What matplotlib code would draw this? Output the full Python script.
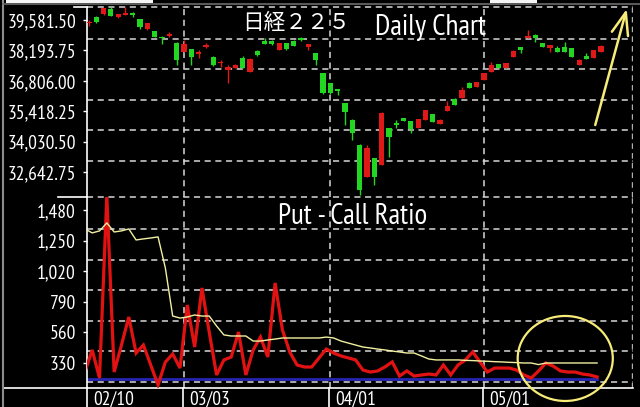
import numpy as np
import matplotlib
matplotlib.use("Agg")
import matplotlib.pyplot as plt
from matplotlib import font_manager as fm
from matplotlib.patches import Ellipse, Rectangle
from matplotlib.lines import Line2D

#############################################################
# Data
#############################################################

# daily candles, Nikkei 225
opens = [39430, 39730, 39840, 40080, 39700, 39810, 39880, 39610, 39160, 39080,
         38820, 38860, 38550, 38130, 38260, 38030, 38350, 37910, 37620, 37300,
         37390, 37850, 37220, 38170, 38620, 38620, 38210, 38520, 38620, 38760,
         38350, 38060, 37150, 36690, 36430, 35780, 35020, 33880, 32420, 33280,
         32960, 34650, 34860, 35110, 34970, 34650, 35020, 35290, 34830, 35430,
         35980, 36020, 36710, 36520, 36840, 37210, 37570, 37390, 37890, 38350,
         38760, 38900, 38530, 38300, 38300, 38350, 38300, 37530, 37940, 37850,
         38120]
highs = [39580, 39760, 40150, 40175, 39860, 40175, 39950, 39630, 39450, 39100,
         38830, 39030, 38570, 38670, 38280, 38210, 38530, 37940, 37760, 37530,
         37550, 37950, 37830, 38200, 38760, 38680, 38540, 38540, 38650, 38800,
         38500, 38080, 37170, 36710, 36450, 35800, 35040, 33900, 33880, 33300,
         35360, 34670, 35020, 35130, 34990, 35080, 35490, 35310, 35040, 35880,
         36000, 36520, 36730, 36770, 37180, 37660, 37590, 37640, 38190, 38370,
         39120, 38920, 38550, 38460, 38400, 38580, 38320, 37780, 38080, 38230,
         38420]
lows = [39310, 39440, 39820, 39760, 39690, 39800, 39720, 39160, 39140, 38800,
        38490, 38800, 37530, 38100, 37530, 37860, 38300, 37500, 37450, 36690,
        37380, 37370, 37200, 37960, 38470, 38450, 38190, 38220, 38390, 38620,
        38210, 37530, 36220, 36200, 36160, 34790, 34100, 31590, 32400, 32050,
        32940, 33330, 34650, 34950, 34420, 34630, 35000, 34910, 34820, 35410,
        35680, 36000, 36460, 36500, 36820, 37190, 37370, 37370, 37870, 38080,
        38740, 38580, 38330, 38120, 38100, 38100, 37870, 37510, 37780, 37830,
        38100]
closes = [39460, 39500, 40120, 39780, 39840, 39900, 39810, 39280, 39430, 38820,
          38750, 38900, 37760, 38470, 37910, 38120, 38440, 37530, 37660, 37450,
          37530, 37390, 37800, 37980, 38490, 38470, 38520, 38240, 38410, 38680,
          38490, 37760, 36240, 36240, 36340, 35400, 34410, 31820, 33740, 32420,
          35340, 34240, 34810, 34970, 34610, 35060, 35470, 34930, 35020, 35660,
          35700, 36390, 36480, 36750, 37160, 37530, 37390, 37620, 38170, 38210,
          38850, 38760, 38350, 38440, 38120, 38120, 37890, 37760, 37800, 38210,
          38400]

# put - call ratio and its average
pcr = [262, 428, 217, 1590, 262, 465, 676, 405, 465, 315,
       165, 337, 398, 292, 766, 450, 894, 560, 240, 353,
       375, 563, 240, 428, 525, 375, 932, 578, 413, 315,
       300, 300, 368, 435, 405, 383, 368, 353, 277, 262,
       270, 300, 338, 232, 270, 232, 240, 247, 240, 315,
       240, 315, 353, 413, 338, 262, 292, 292, 292, 277,
       240, 217, 270, 330, 307, 270, 262, 262, 247, 240, 225]
pcr_avg = [1338, 1308, 1323, 1383, 1315, 1323, 1338, 1255, 1263, 1270,
           1278, 1044, 683, 668, 676, 691, 683, 683, 608, 541,
           533, 533, 533, 495, 495, 503, 510, 518, 518, 518,
           518, 518, 518, 525, 518, 495, 480, 465, 450, 443,
           435, 428, 420, 413, 405, 405, 383, 360, 353, 353,
           353, 353, 350, 348, 345, 343, 340, 338, 335, 333,
           330, 330, 318, 330, 330, 330, 330, 330, 330, 330, 330]
pcr_base = 210

price_ticks = [39581.50, 38193.75, 36806.00, 35418.25, 34030.50, 32642.75]
pcr_ticks = [1480, 1250, 1020, 790, 560, 330]
date_pos = [0, 13, 33, 54]
date_labels = ['02/10', '03/03', '04/01', '05/01']

#############################################################
# Style
#############################################################

RED = '#e01818'
GREEN = '#22d622'
LINE_RED = '#e31212'
YELLOW = '#f2f0a0'
MARK = '#f7ec78'
BLUE = '#2626b4'
GRID = '#d8d8d8'
dash = (0, (4, 3))

# a narrow face looks closest to the original screen font
installed = {f.name for f in fm.fontManager.ttflist}
narrow_pick = [n for n in ['Liberation Sans Narrow', 'Arial Narrow', 'PT Sans Narrow',
                           'Roboto Condensed', 'Archivo Narrow', 'Fira Sans Condensed',
                           'IBM Plex Sans Condensed', 'Open Sans Condensed',
                           'Liberation Sans'] if n in installed]
narrow = narrow_pick[:1] + ['DejaVu Sans']
jp = ['Noto Sans CJK JP', 'DejaVu Sans']

W, H = 640.0, 407.0

def fx(px):
    return px / W

def fy(px):
    return 1 - px / H

fig = plt.figure(figsize=(6.4, 4.07), dpi=100, facecolor='black')
renderer = fig.canvas.get_renderer()

def fit_size(s, family, width_px, cap_px):
    # font size that gives the text the width seen in the reference
    t = fig.text(0, 0, s, family=family, fontsize=20)
    w = t.get_window_extent(renderer=renderer).width
    t.remove()
    size = 20 * width_px / w
    return min(size, cap_px / 0.72 * 72 / 100)

small = fit_size('39,581.50', narrow, 68, 15)
big = fit_size('Put - Call Ratio', narrow, 155, 21)
jp_size = fit_size('日経２２５', jp, 108, 30)

ax1 = fig.add_axes([fx(87), fy(197), (633 - 87) / W, (197 - 7) / H])
ax2 = fig.add_axes([fx(87), fy(388), (633 - 87) / W, (388 - 197) / H], sharex=ax1)

for ax in (ax1, ax2):
    ax.set_facecolor('black')
    for s in ('top', 'right', 'bottom'):
        ax.spines[s].set_visible(False)
    ax.spines['left'].set_color('white')
    ax.spines['left'].set_linewidth(1.2)
    ax.tick_params(axis='y', colors='white', length=3, pad=5.0, width=1)
    ax.tick_params(axis='x', bottom=False, labelbottom=False)
ax2.spines['bottom'].set_visible(True)
ax2.spines['bottom'].set_color('white')
ax2.spines['bottom'].set_linewidth(1.2)

ax1.set_xlim(-0.26, 74.36)
ax1.set_ylim(31501, 40175)
ax2.set_ylim(142, 1578)

# grids
step = price_ticks[0] - price_ticks[1]
for v in price_ticks[:5]:
    ax1.axhline(v - 0.625 * step, color=GRID, lw=1.1, ls=dash, zorder=0)
ax1.axhline(40175, color=GRID, lw=1.1, ls=dash, zorder=0, clip_on=False)
pstep = pcr_ticks[0] - pcr_ticks[1]
for v in pcr_ticks:
    ax2.axhline(v - 0.62 * pstep, color=GRID, lw=1.1, ls=dash, zorder=0)
ax2.axhline(1578, color=GRID, lw=1.1, ls=dash, zorder=0, clip_on=False)
for ax in (ax1, ax2):
    for d in date_pos[1:]:
        ax.axvline(d, color=GRID, lw=1.1, ls=dash, zorder=0)
    ax.axvline(74.2, color='#b0b0b0', lw=1.0, ls=dash, zorder=0)

# candles
days = np.arange(len(opens))
o = np.array(opens)
c = np.array(closes)
col = np.where(c >= o, RED, GREEN)
ax1.vlines(days, lows, highs, colors=col, lw=1.0, zorder=2)
ax1.bar(days, np.maximum(np.abs(c - o), 60), bottom=np.minimum(o, c),
        width=0.72, color=col, lw=0, zorder=3)

# put-call ratio
pcr_x = np.arange(len(pcr)) - 0.55
ax2.plot(pcr_x, [pcr_base] * len(pcr), color=BLUE, lw=2.0, zorder=2)
ax2.plot(pcr_x, pcr, color=LINE_RED, lw=2.3, zorder=3, solid_joinstyle='miter')
ax2.plot(pcr_x, pcr_avg, color=YELLOW, lw=1.0, zorder=4)

# tick labels
ax1.set_yticks(price_ticks)
ax1.set_yticklabels(['{:,.2f}'.format(v) for v in price_ticks],
                    family=narrow, fontsize=small)
ax2.set_yticks(pcr_ticks)
ax2.set_yticklabels(['{:,}'.format(v) for v in pcr_ticks],
                    family=narrow, fontsize=small)

# date row
for d, lab in zip(date_pos, date_labels):
    ax2.plot([d - 0.2, d - 0.2], [0, -0.12], color='white', lw=1.2,
             transform=ax2.get_xaxis_transform(), clip_on=False)
    ax2.annotate(lab, xy=(d - 0.2, -0.058), xycoords=('data', 'axes fraction'),
                 xytext=(4.5, 0), textcoords='offset points', color='white',
                 family=narrow, fontsize=small, ha='left', va='center')

# titles
ax1.text(0.284, 0.916, '日経２２５', transform=ax1.transAxes, color='white',
         family=jp, fontsize=jp_size, ha='left', va='center')
ax1.text(0.5275, 0.8526, 'Daily Chart', transform=ax1.transAxes, color='white',
         family=narrow, fontsize=big, ha='left', va='baseline')
ax2.text(0.35, 0.8586, 'Put - Call Ratio', transform=ax2.transAxes, color='white',
         family=narrow, fontsize=big, ha='left', va='baseline')

# arrow and circle
ax1.annotate('', xy=(73.5, 40084), xytext=(69.2, 34788),
             arrowprops=dict(arrowstyle='->,head_length=1.6,head_width=0.6',
                             color=MARK, lw=1.8, shrinkA=0, shrinkB=0,
                             mutation_scale=10),
             annotation_clip=False)
ax2.add_patch(Ellipse((65.1, 364), 13, 639, fill=False, edgecolor=MARK,
                      lw=1.6, clip_on=False, zorder=5))

# frame bits
fig.add_artist(Line2D([fx(3), fx(87)], [fy(388), fy(388)], color='white', lw=1.2))
fig.add_artist(Line2D([fx(58), fx(87)], [fy(197), fy(197)], color='white', lw=1.2))
fig.add_artist(Line2D([fx(74), fx(87)], [fy(7), fy(7)], color='white', lw=1.2))
fig.add_artist(Line2D([fx(3), fx(3)], [0, 1], color='#8c8c8c', lw=1.5))
fig.add_artist(Line2D([fx(3), 1], [fy(4), fy(4)], color='#6c6c6c', lw=1.2))
fig.add_artist(Rectangle((fx(6), fy(3)), fx(153) - fx(6), 3 / H,
                         facecolor='#f4f4f4', edgecolor='none'))
fig.add_artist(Rectangle((fx(490), fy(3)), fx(537) - fx(490), 3 / H,
                         facecolor='#f4f4f4', edgecolor='none'))

fig.savefig('out.png', dpi=100, facecolor='black')
